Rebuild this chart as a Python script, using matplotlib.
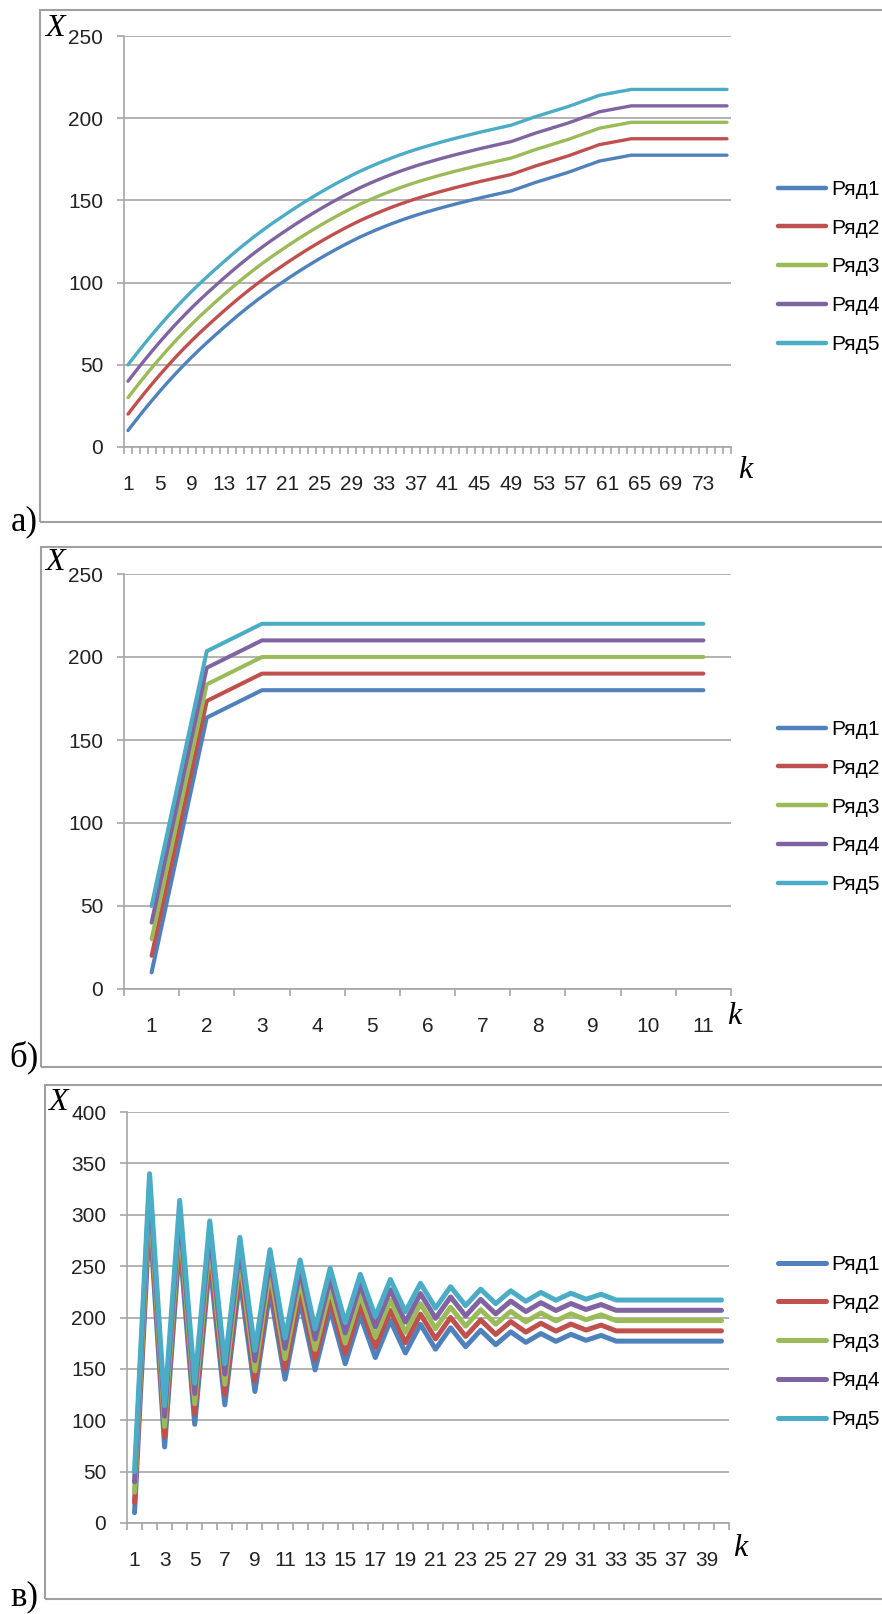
import matplotlib
matplotlib.use('Agg')
import matplotlib.pyplot as plt
from matplotlib.patches import Rectangle

plt.rcParams['font.family'] = ['Liberation Sans', 'DejaVu Sans']

names = ['Ряд1', 'Ряд2', 'Ряд3', 'Ряд4', 'Ряд5']
colors = ['#4f81bd', '#c0504d', '#9bbb59', '#8064a2', '#4bacc6']

# ---- panel а): 76 steps, smooth growth ----
a_k = list(range(1, 77))
a_r1 = [10.0, 16.3, 22.4, 28.3, 34.0, 39.5, 44.8, 49.9, 54.8, 59.5, 64.0, 68.4, 72.7, 76.9, 81.0, 84.9,
        88.7, 92.3, 95.8, 99.1, 102.4, 105.6, 108.7, 111.7, 114.6, 117.4, 120.1, 122.7, 125.2, 127.6,
        129.8, 131.9, 133.9, 135.8, 137.6, 139.3, 140.9, 142.4, 143.8, 145.2, 146.5, 147.8, 149.0, 150.2,
        151.4, 152.5, 153.6, 154.7, 155.8, 157.5, 159.2, 160.9, 162.4, 163.9, 165.4, 166.9, 168.6, 170.4,
        172.1, 173.9, 174.8, 175.7, 176.6, 177.5, 177.5, 177.5, 177.5, 177.5, 177.5, 177.5, 177.5, 177.5,
        177.5, 177.5, 177.5, 177.5]
a_r2 = [20.0, 26.3, 32.4, 38.3, 44.0, 49.5, 54.8, 59.9, 64.8, 69.5, 74.0, 78.4, 82.7, 86.9, 91.0, 94.9,
        98.7, 102.3, 105.8, 109.1, 112.4, 115.6, 118.7, 121.7, 124.6, 127.4, 130.1, 132.7, 135.2, 137.6,
        139.8, 141.9, 143.9, 145.8, 147.6, 149.3, 150.9, 152.4, 153.8, 155.2, 156.5, 157.8, 159.0, 160.2,
        161.4, 162.5, 163.6, 164.7, 165.8, 167.5, 169.2, 170.9, 172.4, 173.9, 175.4, 176.9, 178.6, 180.4,
        182.1, 183.9, 184.8, 185.7, 186.6, 187.5, 187.5, 187.5, 187.5, 187.5, 187.5, 187.5, 187.5, 187.5,
        187.5, 187.5, 187.5, 187.5]
a_r3 = [30.0, 36.3, 42.4, 48.3, 54.0, 59.5, 64.8, 69.9, 74.8, 79.5, 84.0, 88.4, 92.7, 96.9, 101.0, 104.9,
        108.7, 112.3, 115.8, 119.1, 122.4, 125.6, 128.7, 131.7, 134.6, 137.4, 140.1, 142.7, 145.2, 147.6,
        149.8, 151.9, 153.9, 155.8, 157.6, 159.3, 160.9, 162.4, 163.8, 165.2, 166.5, 167.8, 169.0, 170.2,
        171.4, 172.5, 173.6, 174.7, 175.8, 177.5, 179.2, 180.9, 182.4, 183.9, 185.4, 186.9, 188.6, 190.4,
        192.1, 193.9, 194.8, 195.7, 196.6, 197.5, 197.5, 197.5, 197.5, 197.5, 197.5, 197.5, 197.5, 197.5,
        197.5, 197.5, 197.5, 197.5]
a_r4 = [40.0, 46.3, 52.4, 58.3, 64.0, 69.5, 74.8, 79.9, 84.8, 89.5, 94.0, 98.4, 102.7, 106.9, 111.0, 114.9,
        118.7, 122.3, 125.8, 129.1, 132.4, 135.6, 138.7, 141.7, 144.6, 147.4, 150.1, 152.7, 155.2, 157.6,
        159.8, 161.9, 163.9, 165.8, 167.6, 169.3, 170.9, 172.4, 173.8, 175.2, 176.5, 177.8, 179.0, 180.2,
        181.4, 182.5, 183.6, 184.7, 185.8, 187.5, 189.2, 190.9, 192.4, 193.9, 195.4, 196.9, 198.6, 200.4,
        202.1, 203.9, 204.8, 205.7, 206.6, 207.5, 207.5, 207.5, 207.5, 207.5, 207.5, 207.5, 207.5, 207.5,
        207.5, 207.5, 207.5, 207.5]
a_r5 = [50.0, 56.3, 62.4, 68.3, 74.0, 79.5, 84.8, 89.9, 94.8, 99.5, 104.0, 108.4, 112.7, 116.9, 121.0, 124.9,
        128.7, 132.3, 135.8, 139.1, 142.4, 145.6, 148.7, 151.7, 154.6, 157.4, 160.1, 162.7, 165.2, 167.6,
        169.8, 171.9, 173.9, 175.8, 177.6, 179.3, 180.9, 182.4, 183.8, 185.2, 186.5, 187.8, 189.0, 190.2,
        191.4, 192.5, 193.6, 194.7, 195.8, 197.5, 199.2, 200.9, 202.4, 203.9, 205.4, 206.9, 208.6, 210.4,
        212.1, 213.9, 214.8, 215.7, 216.6, 217.5, 217.5, 217.5, 217.5, 217.5, 217.5, 217.5, 217.5, 217.5,
        217.5, 217.5, 217.5, 217.5]
a_labels = list(range(1, 77, 4))

# ---- panel б): 11 steps ----
b_k = list(range(1, 12))
b_r1 = [10, 163.5, 180, 180, 180, 180, 180, 180, 180, 180, 180]
b_r2 = [20, 173.5, 190, 190, 190, 190, 190, 190, 190, 190, 190]
b_r3 = [30, 183.5, 200, 200, 200, 200, 200, 200, 200, 200, 200]
b_r4 = [40, 193.5, 210, 210, 210, 210, 210, 210, 210, 210, 210]
b_r5 = [50, 203.5, 220, 220, 220, 220, 220, 220, 220, 220, 220]
b_labels = list(range(1, 12))

# ---- panel в): 40 steps, damped oscillation ----
c_k = list(range(1, 41))
c_r1 = [10, 300, 74, 274, 96, 254, 115, 238, 128, 226, 140, 216, 149, 208, 155, 202, 161, 197, 165.5, 193.3,
        169.2, 190, 171.6, 187.6, 173.5, 186, 175.8, 184.4, 176.8, 183.6, 177.8, 182.6,
        177, 177, 177, 177, 177, 177, 177, 177]
c_r2 = [20, 310, 84, 284, 106, 264, 125, 248, 138, 236, 150, 226, 159, 218, 165, 212, 171, 207, 175.5, 203.3,
        179.2, 200, 181.6, 197.6, 183.5, 196, 185.8, 194.4, 186.8, 193.6, 187.8, 192.6,
        187, 187, 187, 187, 187, 187, 187, 187]
c_r3 = [30, 320, 94, 294, 116, 274, 135, 258, 148, 246, 160, 236, 169, 228, 175, 222, 181, 217, 185.5, 213.3,
        189.2, 210, 191.6, 207.6, 193.5, 206, 195.8, 204.4, 196.8, 203.6, 197.8, 202.6,
        197, 197, 197, 197, 197, 197, 197, 197]
c_r4 = [40, 330, 104, 304, 126, 284, 145, 268, 158, 256, 170, 246, 179, 238, 185, 232, 191, 227, 195.5, 223.3,
        199.2, 220, 201.6, 217.6, 203.5, 216, 205.8, 214.4, 206.8, 213.6, 207.8, 212.6,
        207, 207, 207, 207, 207, 207, 207, 207]
c_r5 = [50, 340, 114, 314, 136, 294, 155, 278, 168, 266, 180, 256, 189, 248, 195, 242, 201, 237, 205.5, 233.3,
        209.2, 230, 211.6, 227.6, 213.5, 226, 215.8, 224.4, 216.8, 223.6, 217.8, 222.6,
        217, 217, 217, 217, 217, 217, 217, 217]
c_labels = list(range(1, 41, 2))

W, H = 882, 1614
fig = plt.figure(figsize=(W / 100, H / 100), dpi=100)
grey = '#a6a6a6'
serif = ['Liberation Serif', 'DejaVu Serif']


def fx(x):
    return x / W


def fy(y):
    return 1 - y / H


def panel(box, k, series, ymax, ystep, labels, lw, leg_y, x_pos, k_pos, frame, letter, let_pos):
    x0, y0, x1, y1 = box
    ax = fig.add_axes([fx(x0), fy(y1), (x1 - x0) / W, (y1 - y0) / H])
    for s, c, nm in zip(series, colors, names):
        ax.plot(k, s, color=c, lw=lw, label=nm, solid_joinstyle='round', solid_capstyle='round')
    n = len(k)
    ax.set_xlim(0.5, n + 0.5)
    ax.set_ylim(0, ymax)
    ax.set_yticks(range(0, ymax + 1, ystep))
    ax.set_xticks([i + 0.5 for i in range(0, n + 1)])
    ax.set_xticklabels([])
    ax.set_xticks(labels, minor=True)
    ax.set_xticklabels([str(v) for v in labels], minor=True)
    ax.tick_params(axis='x', which='major', length=5, width=1.2, color=grey)
    ax.tick_params(axis='x', which='minor', length=0, pad=20, labelsize=15, labelcolor='#222222')
    ax.tick_params(axis='y', length=5, width=1.2, color=grey, pad=10, labelsize=15, labelcolor='#222222')
    ax.yaxis.grid(True, color=grey, lw=1.2)
    ax.set_axisbelow(True)
    for sp in ['top', 'right']:
        ax.spines[sp].set_visible(False)
    for sp in ['left', 'bottom']:
        ax.spines[sp].set_color(grey)
        ax.spines[sp].set_linewidth(1.2)
    leg = ax.legend(loc='center left', bbox_to_anchor=(fx(768), fy(leg_y)), bbox_transform=fig.transFigure,
                    frameon=False, borderpad=0, handlelength=2.3, handletextpad=0.25, labelspacing=0.95,
                    fontsize=15)
    for h in leg.get_lines():
        h.set_linewidth(max(lw, 3.2))
    fig.text(fx(x_pos[0]), fy(x_pos[1]), 'X', family=serif, style='italic', fontsize=23,
             ha='center', va='center')
    fig.text(fx(k_pos[0]), fy(k_pos[1]), 'k', family=serif, style='italic', fontsize=23,
             ha='center', va='center')
    fig.text(fx(let_pos[0]), fy(let_pos[1]), letter, family=serif, fontsize=25,
             ha='center', va='center')
    fx0, fy0, fy1 = frame
    fig.add_artist(Rectangle((fx(fx0), fy(fy1)), (950 - fx0) / W, (fy1 - fy0) / H,
                             transform=fig.transFigure, fill=False, ec='#a0a0a0', lw=1.5))
    return ax


panel((124, 36, 731, 447), a_k, [a_r1, a_r2, a_r3, a_r4, a_r5], 250, 50, a_labels, 2.4,
      267, (55, 28), (745, 470), (40, 10, 522), 'а)', (24, 522))
panel((124, 574, 731, 989), b_k, [b_r1, b_r2, b_r3, b_r4, b_r5], 250, 50, b_labels, 2.9,
      807, (55, 563), (734, 1017), (41, 547, 1067), 'б)', (24, 1057))
panel((127, 1112, 729, 1523), c_k, [c_r1, c_r2, c_r3, c_r4, c_r5], 400, 50, c_labels, 3.6,
      1342, (58, 1102), (740, 1549), (45, 1085, 1599), 'в)', (24, 1597))

fig.savefig('out.png', dpi=100)
